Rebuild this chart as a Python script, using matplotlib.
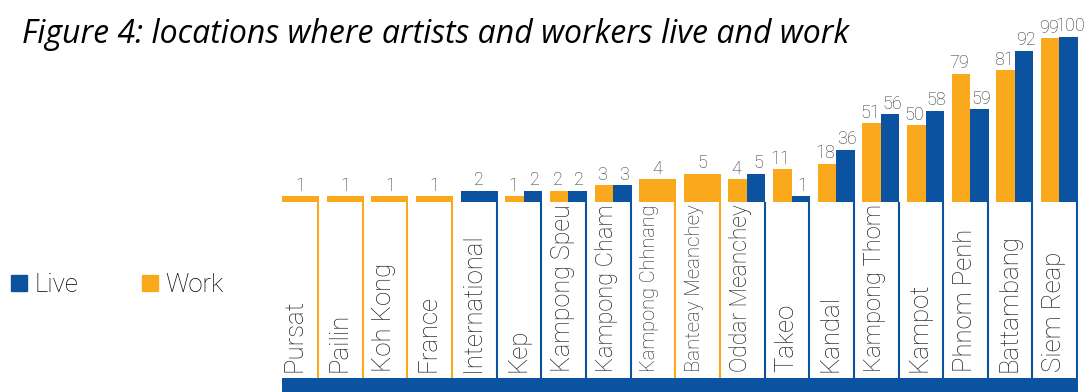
import numpy as np
import matplotlib
matplotlib.use("Agg")
import matplotlib.pyplot as plt
from matplotlib.lines import Line2D

# Where artists and workers live / work, by location
locations = ["Pursat", "Pailin", "Koh Kong", "France", "International", "Kep",
             "Kampong Speu", "Kampong Cham", "Kampong Chhnang", "Banteay Meanchey",
             "Oddar Meanchey", "Takeo", "Kandal", "Kampong Thom", "Kampot",
             "Phnom Penh", "Battambang", "Siem Reap"]
work = [1, 1, 1, 1, 0, 1, 2, 3, 4, 5, 4, 11, 18, 51, 50, 79, 81, 99]
live = [0, 0, 0, 0, 2, 2, 2, 3, 0, 0, 5, 1, 36, 56, 58, 59, 92, 100]

BLUE = "#0B52A0"
ORANGE = "#FBA91C"
LIGHT = ["Roboto", "DejaVu Sans"]

plt.rcParams["font.family"] = ["Open Sans", "DejaVu Sans"]

W, H = 1091, 392
fig = plt.figure(figsize=(W / 100, H / 100), dpi=100)


def box(left, top, right, bottom):
    # pixel box (from top-left) -> figure fraction rect
    return [left / W, (H - bottom) / H, (right - left) / W, (bottom - top) / H]


# compressed value axis: small counts get more room than the big ones
axis_vals = [0, 5, 36, 100, 300]
axis_pix = [0, 28, 52, 165, 518]


def fwd(v):
    return np.interp(v, axis_vals, axis_pix)


def inv(h):
    return np.interp(h, axis_pix, axis_vals)


n = len(locations)
x = np.arange(n)
col_w = 0.83
x0, x1 = -col_w / 2, n - 1 + col_w / 2

ax = fig.add_axes(box(282, 20, 1078, 201.7))
ax.set_yscale("function", functions=(fwd, inv))
ax.set_xlim(x0, x1)
ax.set_ylim(0, inv(181.7))
ax.axis("off")

for i in range(n):
    w, l = work[i], live[i]
    if w and l:
        # side by side: nudge the two labels apart a little
        bars = [(i - col_w / 4, col_w / 2, w, ORANGE, -1.2),
                (i + col_w / 4, col_w / 2, l, BLUE, 1.2)]
    elif w:
        bars = [(i, col_w, w, ORANGE, 0)]
    else:
        bars = [(i, col_w, l, BLUE, 0)]
    for xc, bw, v, c, dx in bars:
        ax.bar(xc, v, width=bw, color=c, linewidth=0)
        ax.annotate(str(v), (xc, v), xytext=(dx, 1), textcoords="offset points",
                    ha="center", va="bottom", fontsize=13, family=LIGHT,
                    fontweight="light", color="#333333", annotation_clip=False)

# label columns with a coloured right edge
low = fig.add_axes(box(282, 201.7, 1078, 378))
low.set_xlim(x0, x1)
low.set_ylim(0, 1)
low.axis("off")
edge_cols = [BLUE if l else ORANGE for l in live]
low.vlines(x + col_w / 2 - 0.02, 0, 1, colors=edge_cols, linewidth=1.5)

renderer = fig.canvas.get_renderer()
max_len = 168
for i, name in enumerate(locations):
    t = low.text(i - col_w / 2 + 0.02, 0.034, name, rotation=90, ha="left", va="bottom",
                 fontsize=18.5, family=LIGHT, fontweight="light", color="#222222")
    ext = t.get_window_extent(renderer)
    if ext.height > max_len:
        t.set_fontsize(18.5 * max_len / ext.height)

band = fig.add_axes(box(282, 378, 1078, 392))
band.set_facecolor(BLUE)
band.set_xticks([])
band.set_yticks([])
for s in band.spines.values():
    s.set_visible(False)

fig.text(22 / W, (H - 43) / H, "Figure 4: locations where artists and workers live and work",
         fontsize=23, style="italic", va="baseline", color="black")

handles = [Line2D([], [], marker="s", linestyle="", markersize=11.5, color=BLUE),
           Line2D([], [], marker="s", linestyle="", markersize=11.5, color=ORANGE)]
fig.legend(handles, ["Live", "Work"], loc="center left", bbox_to_anchor=(-0.012, (H - 285) / H),
           ncol=2, frameon=False, handlelength=0.7, handletextpad=0.25,
           columnspacing=2.45, prop={"family": LIGHT, "weight": "light", "size": 18.5})

fig.savefig("out.png", dpi=100)
